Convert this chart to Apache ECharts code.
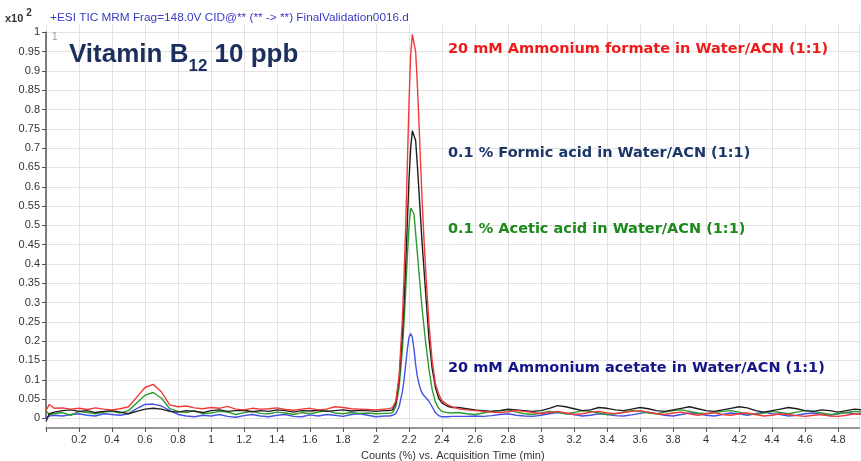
<!DOCTYPE html>
<html><head><meta charset="utf-8">
<script src="https://cdn.jsdelivr.net/npm/echarts@6/dist/echarts.min.js"></script>
<style>html,body{margin:0;padding:0;background:#fff}#c{width:861px;height:461px}</style>
</head><body><div id="c"></div>
<script>
// Acquisition times (min)
var times = [0,0.02,0.05,0.1,0.15,0.2,0.25,0.3,0.35,0.4,0.45,0.5,0.55,0.6,0.65,0.7,0.75,0.8,0.85,0.9,0.95,1,1.05,1.1,1.15,1.2,1.25,1.3,1.35,1.4,1.45,1.5,1.55,1.6,1.65,1.7,1.75,1.8,1.85,1.9,1.95,2,2.05,
  2.08,2.1,2.12,2.14,2.16,2.17,2.18,2.19,2.2,2.21,2.22,2.23,2.24,2.25,2.26,2.27,2.28,2.29,2.3,2.32,2.34,2.36,2.38,2.4,2.43,2.46,
  2.5,2.55,2.6,2.65,2.7,2.75,2.8,2.85,2.9,2.95,3,3.05,3.1,3.15,3.2,3.25,3.3,3.35,3.4,3.45,3.5,3.55,3.6,3.65,3.7,3.75,3.8,3.85,3.9,3.95,
  4,4.05,4.1,4.15,4.2,4.25,4.3,4.35,4.4,4.45,4.5,4.55,4.6,4.65,4.7,4.75,4.8,4.85,4.9,4.95];

// 20 mM Ammonium formate (red)
var ammFormate = [0.02,0.036,0.026,0.027,0.024,0.026,0.023,0.027,0.024,0.022,0.025,0.03,0.055,0.08,0.088,0.068,0.035,0.03,0.032,0.027,0.025,0.028,0.026,0.031,0.024,0.022,0.026,0.024,0.025,0.027,0.023,0.021,0.024,0.026,0.022,0.024,0.03,0.028,0.025,0.024,0.023,0.022,0.024,
  0.025,0.028,0.045,0.11,0.26,0.37,0.5,0.66,0.82,0.94,0.995,1.0,0.95,0.87,0.77,0.66,0.56,0.47,0.39,0.25,0.15,0.09,0.062,0.046,0.036,0.03,
  0.025,0.022,0.02,0.018,0.016,0.015,0.017,0.02,0.018,0.015,0.012,0.015,0.018,0.014,0.01,0.012,0.016,0.018,0.014,0.012,
  0.015,0.018,0.02,0.016,0.012,0.01,0.014,0.016,0.012,0.008,0.012,0.015,0.01,0.008,0.012,0.014,0.01,0.006,0.008,0.012,
  0.01,0.007,0.005,0.008,0.01,0.006,0.005,0.008,0.012,0.01];

// 0.1 % Formic acid (black)
var formicAcid = [-0.008,0.012,0.016,0.02,0.022,0.018,0.02,0.015,0.018,0.02,0.016,0.012,0.018,0.024,0.026,0.024,0.018,0.016,0.02,0.018,0.015,0.02,0.022,0.018,0.02,0.021,0.017,0.02,0.018,0.022,0.02,0.016,0.02,0.019,0.021,0.018,0.02,0.022,0.019,0.021,0.02,0.018,0.02,
  0.02,0.022,0.04,0.1,0.22,0.3,0.4,0.51,0.62,0.7,0.745,0.75,0.72,0.66,0.59,0.52,0.45,0.39,0.33,0.21,0.13,0.08,0.052,0.04,0.032,0.028,
  0.028,0.025,0.022,0.02,0.018,0.02,0.024,0.022,0.02,0.018,0.02,0.026,0.033,0.03,0.025,0.02,0.022,0.028,0.026,0.022,
  0.02,0.024,0.028,0.025,0.02,0.018,0.022,0.026,0.03,0.025,0.02,0.018,0.022,0.026,0.03,0.027,0.02,0.016,0.02,0.024,
  0.028,0.025,0.02,0.018,0.022,0.02,0.016,0.02,0.024,0.022];

// 0.1 % Acetic acid (green)
var aceticAcid = [0.02,0.01,0.012,0.015,0.008,0.018,0.015,0.012,0.016,0.018,0.014,0.02,0.04,0.06,0.067,0.052,0.025,0.018,0.015,0.02,0.012,0.014,0.018,0.016,0.01,0.015,0.018,0.013,0.012,0.016,0.014,0.01,0.015,0.012,0.016,0.02,0.014,0.012,0.015,0.013,0.014,0.012,0.013,
  0.013,0.015,0.03,0.08,0.18,0.25,0.33,0.42,0.5,0.545,0.55,0.53,0.48,0.43,0.38,0.33,0.28,0.24,0.2,0.13,0.075,0.042,0.026,0.018,0.015,0.014,
  0.015,0.012,0.01,0.014,0.018,0.02,0.022,0.016,0.012,0.01,0.014,0.018,0.016,0.012,0.015,0.02,0.018,0.014,0.01,0.012,
  0.016,0.02,0.018,0.014,0.012,0.016,0.02,0.022,0.018,0.014,0.012,0.015,0.018,0.02,0.016,0.012,0.01,0.014,0.018,0.015,
  0.012,0.016,0.02,0.018,0.014,0.01,0.012,0.015,0.018,0.016];

// 20 mM Ammonium acetate (blue)
var ammAcetate = [0.002,0.006,0.008,0.006,0.01,0.012,0.008,0.006,0.012,0.01,0.008,0.012,0.025,0.036,0.037,0.032,0.02,0.01,0.006,0.004,0.008,0.006,0.01,0.005,0.003,0.007,0.01,0.006,0.004,0.008,0.01,0.005,0.004,0.009,0.006,0.01,0.008,0.005,0.01,0.012,0.008,0.004,0.006,
  0.006,0.008,0.012,0.03,0.07,0.1,0.14,0.18,0.21,0.22,0.21,0.18,0.14,0.11,0.09,0.075,0.065,0.059,0.054,0.045,0.03,0.015,0.007,0.004,0.004,0.005,
  0.005,0.005,0.006,0.005,0.007,0.01,0.012,0.008,0.006,0.005,0.008,0.012,0.015,0.012,0.01,0.006,0.008,0.012,0.01,0.007,
  0.006,0.009,0.013,0.016,0.012,0.008,0.006,0.01,0.014,0.012,0.008,0.006,0.01,0.014,0.012,0.008,0.012,0.016,0.012,0.01,
  0.006,0.008,0.012,0.014,0.01,0.008,0.012,0.015,0.012,0.01];

var seriesNames = ['20 mM Ammonium formate in Water/ACN (1:1)','0.1 % Formic acid in Water/ACN (1:1)','0.1 % Acetic acid in Water/ACN (1:1)','20 mM Ammonium acetate in Water/ACN (1:1)'];
var lineColors = ['#f03a3a','#1e1e1e','#2f9a2f','#4652e6'];
var labelColors = ['#ee1b1b','#1c3668','#1b8a1b','#15158a'];
var labelTops = [37, 141, 217, 356];
var allValues = [ammFormate, formicAcid, aceticAcid, ammAcetate];

var chart = echarts.init(document.getElementById('c'), null, {renderer:'canvas'});
var PX = 386; // px per unit on y
var gridLeft = 46, gridRight = 1.5, plotBottom = 33;
var yMin = -0.025, yMax = 1.02;
var plotH = (yMax - yMin) * PX;
var plotTop = 461 - plotBottom - plotH;
var lblTop = 461 - plotBottom - (0 - yMin) * PX - PX;

var series = allValues.map(function(v, k){
  return {
    type:'line', name:seriesNames[k], xAxisIndex:0, yAxisIndex:0,
    data: times.map(function(t,i){return [t, v[i]];}),
    showSymbol:false, symbol:'none', smooth:false, clip:true,
    lineStyle:{color:lineColors[k], width:1.4}, z: 10 - k
  };
});
series.reverse();

var titles = [
  {text:'+ESI TIC MRM Frag=148.0V CID@** (** -> **) FinalValidation0016.d', left:45, top:7,
   textStyle:{color:'#3a3ac4', fontSize:11.8, fontWeight:'normal', fontFamily:'Liberation Sans'}},
  {text:'{a|x10}{s|2}', left:0, top:3,
   textStyle:{rich:{a:{fontSize:11, color:'#333', fontFamily:'Liberation Sans', verticalAlign:'bottom', lineHeight:16},
                    s:{fontSize:10, color:'#333', fontFamily:'Liberation Sans', verticalAlign:'top', padding:[0,0,6,3], lineHeight:16}}}},
  {text:'1', left:47, top:27, textStyle:{fontSize:10, color:'#999', fontWeight:'normal', fontFamily:'Liberation Sans'}},
  {text:'{a|Vitamin B}{s|12}{a| 10 ppb}', left:64, top:33,
   textStyle:{rich:{a:{fontSize:26, color:'#1b2f5c', fontWeight:'bold', fontFamily:'Liberation Sans', lineHeight:30, verticalAlign:'bottom'},
                    s:{fontSize:17, color:'#1b2f5c', fontWeight:'bold', fontFamily:'Liberation Sans', lineHeight:30, verticalAlign:'bottom', padding:[0,0,-7,0]}}}}
];
seriesNames.forEach(function(n,k){
  titles.push({text:n, left:443, top:labelTops[k],
    textStyle:{fontSize:14.5, fontWeight:'bold', color:labelColors[k], fontFamily:'DejaVu Sans'}});
});

chart.setOption({
  animation:false,
  backgroundColor:'#fff',
  title: titles,
  grid:[
    {left:gridLeft, right:gridRight, top:plotTop, height:plotH, containLabel:false, outerBoundsMode:'none'},
    {left:gridLeft, right:gridRight, top:lblTop, height:PX, containLabel:false, outerBoundsMode:'none'}
  ],
  xAxis:[
    {type:'value', gridIndex:0, min:0, max:4.93, interval:0.2,
     name:'Counts (%) vs. Acquisition Time (min)', nameLocation:'middle', nameGap:22,
     nameTextStyle:{fontSize:11, color:'#333', fontFamily:'Liberation Sans'},
     axisLine:{show:true, onZero:false, lineStyle:{color:'#777', width:1.5}},
     axisTick:{show:true, length:4, lineStyle:{color:'#555'}},
     axisLabel:{fontSize:11, color:'#333', margin:6, fontFamily:'Liberation Sans', showMaxLabel:false,
       formatter:function(v){ return v===0 ? '' : String(Math.round(v*10)/10); }},
     splitLine:{show:true, lineStyle:{color:'#e2e2e2', width:1}}},
    {type:'value', gridIndex:1, min:0, max:1, show:false}
  ],
  yAxis:[
    {type:'value', gridIndex:0, min:yMin, max:yMax, show:false, splitLine:{show:false}},
    {type:'value', gridIndex:1, min:0, max:1, interval:0.05,
     axisLine:{show:true, lineStyle:{color:'#555', width:1.5}},
     axisTick:{show:true, length:4, lineStyle:{color:'#555'}},
     axisLabel:{fontSize:11, color:'#333', margin:6, fontFamily:'Liberation Sans',
       formatter:function(v){ return String(Math.round(v*100)/100); }},
     splitLine:{show:true, lineStyle:{color:'#e2e2e2', width:1}}}
  ],
  series: series
});
</script></body></html>
